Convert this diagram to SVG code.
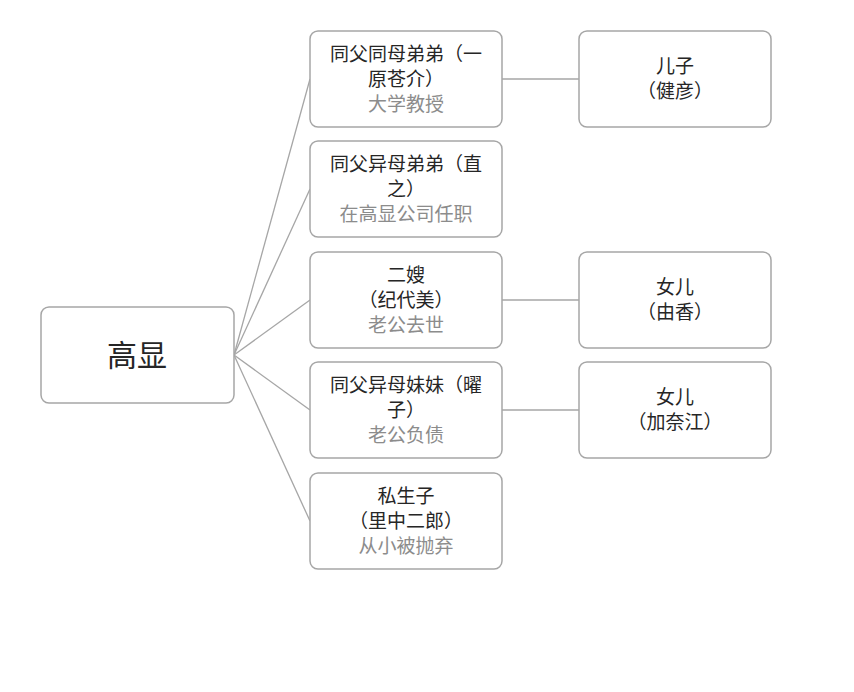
<svg xmlns="http://www.w3.org/2000/svg" width="854" height="692" viewBox="0 0 854 692">
<style>
.b{fill:#fff;stroke:#a6a6a6;stroke-width:1.5}
.t{font-family:"Noto Sans CJK SC",sans-serif;font-size:19px;fill:#262626;text-anchor:middle}
.g{fill:#8c8c8c}
.c line{stroke:#a6a6a6;stroke-width:1.3}
</style>
<rect width="854" height="692" fill="#fff"/>
<g class="c">
<line x1="234" y1="355" x2="310" y2="79"/>
<line x1="234" y1="355" x2="310" y2="189"/>
<line x1="234" y1="355" x2="310" y2="300"/>
<line x1="234" y1="355" x2="310" y2="410"/>
<line x1="234" y1="355" x2="310" y2="521"/>
<line x1="502" y1="79" x2="579" y2="79"/>
<line x1="502" y1="300" x2="579" y2="300"/>
<line x1="502" y1="410" x2="579" y2="410"/>
</g>
<g id="root"><rect class="b" x="41" y="307" width="193" height="96" rx="8"/><text class="t" x="137" y="366" style="font-size:30px">高显</text></g>
<g id="m1"><rect class="b" x="310" y="31" width="192" height="96" rx="8"/><text class="t" x="406" y="61">同父同母弟弟（一</text><text class="t" x="406" y="86">原苍介）</text><text class="t g" x="406" y="111">大学教授</text></g>
<g id="m2"><rect class="b" x="310" y="141" width="192" height="96" rx="8"/><text class="t" x="406" y="171">同父异母弟弟（直</text><text class="t" x="406" y="196">之）</text><text class="t g" x="406" y="221">在高显公司任职</text></g>
<g id="m3"><rect class="b" x="310" y="252" width="192" height="96" rx="8"/><text class="t" x="406" y="282">二嫂</text><text class="t" x="406" y="307">（纪代美）</text><text class="t g" x="406" y="332">老公去世</text></g>
<g id="m4"><rect class="b" x="310" y="362" width="192" height="96" rx="8"/><text class="t" x="406" y="392">同父异母妹妹（曜</text><text class="t" x="406" y="417">子）</text><text class="t g" x="406" y="442">老公负债</text></g>
<g id="m5"><rect class="b" x="310" y="473" width="192" height="96" rx="8"/><text class="t" x="406" y="503">私生子</text><text class="t" x="406" y="528">（里中二郎）</text><text class="t g" x="406" y="553">从小被抛弃</text></g>
<g id="r1"><rect class="b" x="579" y="31" width="192" height="96" rx="8"/><text class="t" x="675" y="73">儿子</text><text class="t" x="675" y="98">（健彦）</text></g>
<g id="r3"><rect class="b" x="579" y="252" width="192" height="96" rx="8"/><text class="t" x="675" y="294">女儿</text><text class="t" x="675" y="319">（由香）</text></g>
<g id="r4"><rect class="b" x="579" y="362" width="192" height="96" rx="8"/><text class="t" x="675" y="404">女儿</text><text class="t" x="675" y="429">（加奈江）</text></g>
</svg>
